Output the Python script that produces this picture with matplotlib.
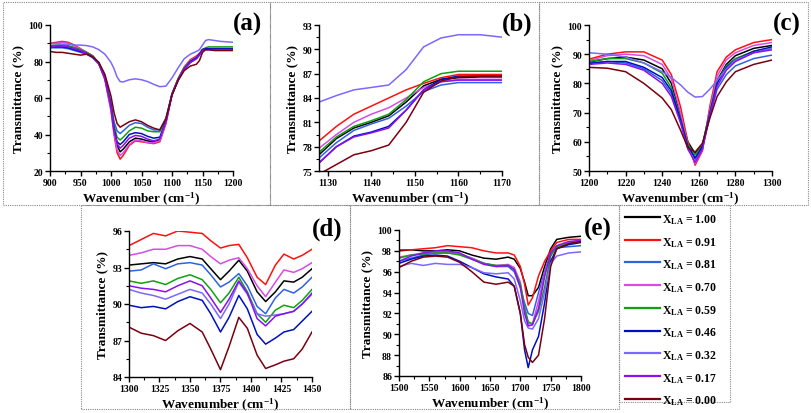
import matplotlib
matplotlib.use("Agg")
import matplotlib.pyplot as plt
from matplotlib.lines import Line2D
from matplotlib.patches import Rectangle
from matplotlib.ticker import MultipleLocator, AutoMinorLocator

plt.rcParams['font.family'] = ['Liberation Serif', 'DejaVu Serif']
plt.rcParams['font.weight'] = 'bold'
plt.rcParams['mathtext.fontset'] = 'custom'
plt.rcParams['mathtext.rm'] = 'Liberation Serif:bold'
plt.rcParams['mathtext.bf'] = 'Liberation Serif:bold'
plt.rcParams['mathtext.it'] = 'Liberation Serif:bold'

labels = ["1.00", "0.91", "0.81", "0.70", "0.59", "0.46", "0.32", "0.17", "0.00"]
colors = ["#000000", "#ff1010", "#2f62e0", "#d94ae8", "#10a010", "#0010c0", "#7a68ff", "#8a10f0", "#7a0010"]

# ---------- panel (a) ----------
xa = [900, 910, 920, 930, 940, 950, 960, 970, 980, 990, 1000, 1005, 1010, 1015, 1020, 1030, 1040, 1050,
      1060, 1070, 1080, 1090, 1100, 1110, 1120, 1130, 1140, 1145, 1150, 1155, 1160, 1170, 1180, 1190, 1200]
a_100 = [88, 88.5, 89, 88.5, 87.5, 86.5, 85, 83, 79, 71, 55, 43, 34, 30.5, 32, 36, 38, 37.5, 36.5, 36, 37, 47, 62, 70, 76, 79.5, 82, 84, 86.5, 87, 87, 87, 87, 87, 87]
a_091 = [90, 90.5, 91, 90.5, 89, 87, 85, 83, 79, 70, 53, 40, 30, 26.5, 28.5, 34, 36.5, 36, 35.5, 35, 36, 46, 62, 70.5, 77, 81, 83, 84.5, 86.5, 87, 87, 87, 87, 86.8, 86.8]
a_081 = [87.5, 87.5, 87.5, 87, 86, 85, 84, 82, 78.5, 71, 57, 47, 42, 40.5, 42, 45, 46.5, 46, 44, 42.5, 42.5, 49, 62, 70, 76, 79.5, 81.5, 83.5, 86, 86.5, 86.5, 86.5, 86.5, 86.5, 86.5]
a_070 = [89.5, 90, 90.5, 90, 88.5, 87, 85, 83, 79, 70.5, 54, 41, 31.5, 28.5, 30, 34.5, 37, 36.5, 35.5, 35.5, 36.5, 46, 62, 70.5, 76.5, 80.5, 82.5, 84, 86.5, 87, 87, 87, 87, 87, 87]
a_059 = [88.5, 89, 89, 88.5, 87.5, 86.5, 85, 83, 79.5, 72, 57, 45, 38.5, 37, 38.5, 42, 44, 43.5, 42, 41.5, 41.5, 48.5, 62.5, 70.5, 76.5, 80, 82, 84, 86.5, 87.5, 88, 88, 88, 88, 88]
a_046 = [88, 88, 88, 87.5, 86.5, 85.5, 84.5, 82.5, 79, 71, 56, 43, 36, 34.5, 36, 40, 41, 40.5, 39, 38, 38.5, 47.5, 62, 70, 76, 80, 82, 84, 86.5, 87, 87, 87, 87, 87, 87]
a_032 = [90, 89.8, 89.5, 89.5, 89, 89, 88.7, 88, 86.5, 84, 79.5, 76, 71.5, 69, 68.8, 70, 70.5, 70, 69, 67.5, 66.2, 66.5, 71, 76.5, 81.5, 84, 85.5, 86.5, 89, 91.5, 92, 91.5, 91, 90.8, 90.5]
a_017 = [88, 88.5, 88.5, 88, 87, 86, 84.5, 82.5, 79, 71, 55, 42, 35, 32.5, 34, 38, 39.5, 39, 37.5, 36.5, 37.5, 47, 62, 70, 76, 79.5, 81.5, 83.5, 86, 86.5, 86.5, 86.5, 86.5, 86.5, 86.5]
a_000 = [85.5, 85, 85, 84.5, 84, 83.5, 84, 82.5, 79.5, 73, 61, 52, 46, 44, 45, 47, 48, 47, 45, 43.5, 42.5, 48.5, 61.5, 69.5, 75, 77.5, 78.5, 80.5, 85, 86.5, 86.5, 86, 86, 86, 86]

# ---------- panel (b) ----------
xb = [1128, 1132, 1136, 1140, 1144, 1148, 1152, 1156, 1160, 1165, 1170]
b_100 = [77.0, 79.0, 80.3, 81.0, 81.8, 83.5, 85.5, 86.3, 86.5, 86.6, 86.6]
b_091 = [78.7, 80.5, 82.0, 83.0, 84.0, 85.0, 85.8, 86.5, 86.9, 86.9, 86.9]
b_081 = [76.6, 78.5, 80.0, 80.8, 81.5, 83.0, 84.8, 85.6, 85.9, 85.9, 85.9]
b_070 = [77.8, 79.5, 81.0, 82.0, 82.8, 84.0, 85.3, 86.0, 86.3, 86.3, 86.3]
b_059 = [77.3, 79.2, 80.5, 81.2, 82.0, 83.8, 86.0, 87.0, 87.3, 87.3, 87.3]
b_046 = [76.0, 78.0, 79.3, 79.8, 80.5, 82.5, 85.0, 86.3, 86.7, 86.7, 86.7]
b_032 = [83.5, 84.3, 85.0, 85.3, 85.6, 87.5, 90.3, 91.4, 91.8, 91.8, 91.5]
b_017 = [76.0, 78.0, 79.2, 79.7, 80.3, 82.5, 85.0, 86.0, 86.2, 86.2, 86.2]
b_000 = [74.6, 75.8, 77.0, 77.5, 78.2, 81.0, 84.7, 86.1, 86.6, 86.7, 86.7]

# ---------- panel (c) ----------
xc = [1200, 1210, 1220, 1230, 1240, 1245, 1250, 1254, 1258, 1262, 1266, 1270, 1275, 1280, 1290, 1300]
c_100 = [87.3, 88.5, 89.0, 88.0, 85.0, 80.0, 69.0, 60.0, 56.0, 59.0, 70.0, 81.0, 86.5, 89.5, 92.0, 93.0]
c_091 = [88.3, 90.0, 90.8, 90.8, 88.0, 83.0, 72.0, 60.0, 52.0, 57.0, 72.0, 84.0, 89.0, 91.5, 94.0, 95.0]
c_081 = [87.0, 87.5, 87.0, 85.0, 81.0, 76.5, 67.0, 58.0, 54.0, 58.0, 68.5, 78.0, 83.0, 86.0, 88.5, 89.7]
c_070 = [87.8, 89.5, 90.0, 89.5, 86.5, 81.5, 70.0, 59.0, 52.5, 57.5, 71.0, 82.5, 88.0, 90.5, 93.0, 94.0]
c_059 = [87.5, 88.5, 88.5, 87.0, 83.5, 78.5, 68.0, 59.0, 55.5, 59.0, 70.0, 80.5, 86.0, 88.5, 91.0, 92.0]
c_046 = [86.8, 87.5, 87.5, 85.5, 82.0, 77.5, 67.5, 58.5, 54.5, 58.5, 69.5, 80.0, 85.5, 88.0, 91.0, 92.5]
c_032 = [90.5, 90.0, 89.0, 87.0, 84.0, 82.0, 79.5, 77.0, 75.3, 75.5, 78.0, 81.0, 85.0, 88.0, 90.5, 92.0]
c_017 = [86.5, 87.0, 86.5, 84.5, 80.0, 75.5, 66.5, 57.5, 53.0, 57.5, 69.0, 79.0, 84.5, 87.5, 90.5, 91.5]
c_000 = [85.5, 85.2, 84.0, 80.0, 75.0, 71.0, 64.0, 58.0, 56.5, 59.5, 68.0, 75.5, 80.5, 84.0, 86.5, 88.0]

# ---------- panel (d) ----------
xd = [1300, 1310, 1320, 1330, 1340, 1350, 1360, 1367, 1375, 1382, 1390, 1397, 1405, 1412, 1420, 1427, 1435, 1442, 1450]
d_100 = [93.2, 93.3, 93.4, 93.3, 93.7, 93.9, 93.7, 92.9, 92.0, 92.7, 93.6, 92.7, 91.0, 90.2, 91.0, 91.9, 91.8, 92.2, 92.9]
d_091 = [94.8, 95.3, 95.8, 95.6, 96.0, 95.9, 95.8, 95.2, 94.6, 94.8, 94.9, 93.8, 92.2, 91.6, 93.2, 94.1, 93.7, 94.0, 94.5]
d_081 = [92.7, 92.8, 93.3, 92.9, 93.3, 93.4, 93.2, 92.4, 91.4, 91.8, 92.5, 91.5, 89.8, 89.2, 90.5, 91.2, 90.9, 91.4, 92.2]
d_070 = [94.0, 94.2, 94.5, 94.5, 94.8, 94.8, 94.5, 93.9, 93.3, 93.6, 93.8, 92.9, 91.5, 90.6, 91.8, 92.8, 92.6, 92.9, 93.4]
d_059 = [91.9, 91.7, 91.9, 91.6, 92.1, 92.4, 92.0, 91.2, 90.1, 90.9, 92.2, 91.0, 89.2, 88.5, 89.5, 89.9, 89.7, 90.3, 91.2]
d_046 = [89.9, 89.7, 89.8, 89.6, 90.2, 90.6, 90.3, 89.2, 87.7, 88.9, 90.7, 89.6, 87.5, 86.7, 87.2, 87.7, 87.9, 88.6, 89.4]
d_032 = [91.2, 90.9, 90.7, 90.4, 90.8, 91.2, 90.9, 90.0, 88.8, 90.0, 91.8, 90.8, 89.2, 89.0, 89.1, 89.2, 89.4, 90.0, 90.8]
d_017 = [91.5, 91.3, 91.2, 91.0, 91.5, 91.9, 91.5, 90.5, 89.3, 90.4, 91.9, 90.9, 88.8, 88.2, 89.0, 89.2, 89.4, 90.0, 90.9]
d_000 = [88.1, 87.6, 87.4, 87.0, 87.8, 88.4, 87.7, 86.3, 84.6, 86.5, 88.9, 88.0, 85.8, 84.7, 85.0, 85.3, 85.5, 86.3, 87.7]

# ---------- panel (e) ----------
xe = [1500, 1520, 1540, 1560, 1580, 1600, 1620, 1640, 1660, 1680, 1690, 1700, 1707, 1713, 1720, 1730, 1740, 1750, 1760, 1780, 1800]
e_100 = [98.0, 98.1, 98.0, 98.0, 98.1, 98.0, 97.6, 97.3, 97.2, 97.4, 97.2, 96.3, 95.0, 93.7, 93.7, 94.5, 96.5, 98.2, 99.1, 99.3, 99.4]
e_091 = [98.1, 98.1, 98.2, 98.3, 98.5, 98.4, 98.3, 98.0, 97.8, 97.8, 97.6, 96.5, 94.8, 92.8, 93.5, 95.6, 97.0, 98.0, 98.8, 99.1, 99.1]
e_081 = [97.0, 97.3, 97.6, 97.8, 97.8, 97.7, 97.3, 96.8, 96.5, 96.5, 96.0, 94.5, 93.0, 92.0, 91.8, 94.0, 96.0, 97.8, 98.3, 98.4, 98.5]
e_070 = [97.4, 97.6, 97.8, 97.9, 97.9, 97.7, 97.3, 96.8, 96.6, 96.7, 96.4, 95.0, 92.5, 91.0, 91.0, 93.2, 95.8, 97.6, 98.4, 98.8, 99.0]
e_059 = [97.3, 97.6, 97.7, 97.8, 97.8, 97.6, 97.2, 96.8, 96.6, 96.6, 96.2, 94.8, 92.6, 91.2, 91.0, 92.2, 94.5, 97.5, 98.4, 98.7, 98.9]
e_046 = [96.8, 97.2, 97.5, 97.6, 97.5, 97.0, 96.4, 95.8, 95.5, 95.3, 94.6, 92.0, 88.5, 86.8, 88.5, 89.8, 93.0, 97.0, 98.2, 98.6, 98.8]
e_032 = [96.5, 96.8, 96.6, 96.8, 96.7, 96.7, 96.4, 95.9, 95.8, 95.9, 95.3, 93.2, 91.3, 90.6, 90.5, 91.5, 94.0, 96.8, 97.5, 97.8, 97.9]
e_017 = [97.0, 97.5, 97.8, 98.0, 98.0, 97.8, 97.2, 96.7, 96.5, 96.6, 96.2, 94.5, 92.0, 90.8, 90.9, 92.5, 95.5, 97.8, 98.5, 98.9, 99.0]
e_000 = [96.4, 97.0, 97.4, 97.5, 97.4, 96.9, 96.0, 95.0, 94.8, 95.0, 94.6, 92.0, 89.0, 87.8, 87.3, 88.0, 91.5, 96.5, 98.2, 98.7, 98.9]

W, H = 811, 414
fig = plt.figure(figsize=(W / 100, H / 100), dpi=100)


def ax_at(l, r, t, b):
    return fig.add_axes([l / W, 1 - b / H, (r - l) / W, (b - t) / H])


def box(l, r, t, b):
    fig.add_artist(Rectangle((l / W, 1 - b / H), (r - l) / W, (b - t) / H, transform=fig.transFigure,
                             fill=False, edgecolor='#8a8a8a', linestyle=(0, (1, 1)), linewidth=0.8))


def style(ax, xlim, ylim, xmaj, ymaj, label, lx, ly):
    ax.set_xlim(*xlim)
    ax.set_ylim(*ylim)
    ax.xaxis.set_major_locator(MultipleLocator(xmaj))
    ax.yaxis.set_major_locator(MultipleLocator(ymaj))
    ax.xaxis.set_minor_locator(AutoMinorLocator(2))
    ax.yaxis.set_minor_locator(AutoMinorLocator(2))
    for s in ['top', 'right']:
        ax.spines[s].set_visible(False)
    for s in ['left', 'bottom']:
        ax.spines[s].set_linewidth(1.0)
    ax.tick_params(which='major', direction='out', length=3.5, width=1.0, pad=1.5, labelsize=7)
    ax.tick_params(which='minor', direction='out', length=2, width=0.8)
    for t in ax.get_xticklabels() + ax.get_yticklabels():
        t.set_fontweight('bold')
    ax.set_xlabel(r'Wavenumber (cm$^{\mathbf{-1}}$)', fontsize=9.5, fontweight='bold', labelpad=2)
    ax.set_ylabel('Transmittance (%)', fontsize=9.5, fontweight='bold', labelpad=3)
    ax.patch.set_alpha(0)
    fig.text(lx / W, 1 - ly / H, label, fontsize=18, fontweight='bold', ha='center', va='center')


panels = [
    ((50, 233, 26, 172), xa, [a_100, a_091, a_081, a_070, a_059, a_046, a_032, a_017, a_000],
     (900, 1200), (20, 100), 50, 20, '(a)', 247, 24),
    ((319, 502, 26, 172), xb, [b_100, b_091, b_081, b_070, b_059, b_046, b_032, b_017, b_000],
     (1128, 1170), (75, 93), 10, 3, '(b)', 517, 24),
    ((589, 772, 26, 172), xc, [c_100, c_091, c_081, c_070, c_059, c_046, c_032, c_017, c_000],
     (1200, 1300), (50, 100), 20, 10, '(c)', 787, 24),
    ((129, 312, 232, 378), xd, [d_100, d_091, d_081, d_070, d_059, d_046, d_032, d_017, d_000],
     (1300, 1450), (84, 96), 25, 3, '(d)', 327, 229),
    ((399, 581, 231, 377), xe, [e_100, e_091, e_081, e_070, e_059, e_046, e_032, e_017, e_000],
     (1500, 1800), (86, 100), 50, 2, '(e)', 598, 229),
]

for (l, r, t, b), xs, series, xlim, ylim, xmaj, ymaj, lab, lx, ly in panels:
    ax = ax_at(l, r, t, b)
    for ys, c in zip(series, colors):
        ax.plot(xs, ys, color=c, linewidth=1.1, solid_joinstyle='round')
    style(ax, xlim, ylim, xmaj, ymaj, lab, lx, ly)

# panel frames
box(3, 270, 3, 206)
box(270, 539, 3, 206)
box(539, 808, 3, 206)
box(81, 350, 206, 410)
box(350, 619, 206, 410)
box(619, 730, 206, 403)

# legend
for i, (lab, c) in enumerate(zip(labels, colors)):
    y = 218 + i * 22.7
    fig.add_artist(Line2D([625 / W, 660 / W], [1 - y / H, 1 - y / H], color=c, linewidth=1.6,
                          transform=fig.transFigure))
    fig.text(662 / W, 1 - (y + 2) / H, r'X$_{\mathbf{LA}}$ = ' + lab, fontsize=8.5, fontweight='bold',
             ha='left', va='center')

fig.savefig('out.png', dpi=100)
